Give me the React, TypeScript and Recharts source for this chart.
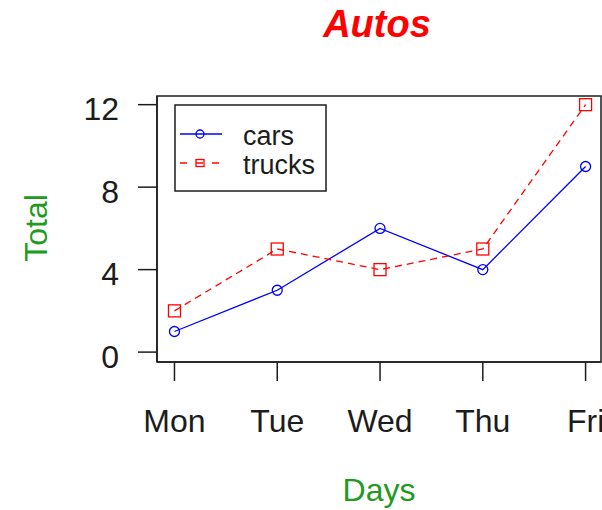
import { LineChart, Line, XAxis, YAxis, Label, ReferenceArea } from 'recharts';

const days = ['Mon', 'Tue', 'Wed', 'Thu', 'Fri'];
const cars = [1, 3, 6, 4, 9];
const trucks = [2, 5, 4, 5, 12];
const yTicks = [0, 4, 8, 12];
const xTicks = [1, 2, 3, 4, 5];

const data = days.map((day, i) => ({ x: i + 1, day, cars: cars[i], trucks: trucks[i] }));

const FONT = '"Liberation Sans", Arial, sans-serif';
const INK = '#1c1c1c';
const GREEN = '#229a22';
const xDomain: [number, number] = [0.83, 5.15];
const yDomain: [number, number] = [-0.48, 12.42];

const series = [
  { key: 'cars', color: '#0000ff', dash: undefined as string | undefined, marker: 'circle' },
  { key: 'trucks', color: '#ff0000', dash: '7 5', marker: 'square' },
];

const XTick = ({ x, y, payload }: any) => (
  <text x={x} y={y + 51} textAnchor="middle" fontSize={32} fontFamily={FONT} fill={INK}>
    {days[payload.value - 1]}
  </text>
);

const YTick = ({ x, y, payload }: any) => (
  <text x={x} y={y + 15.5} textAnchor="end" fontSize={32} fontFamily={FONT} fill={INK}>
    {payload.value}
  </text>
);

const CircleDot = ({ cx, cy, index }: any) => (
  <circle key={`c-${index}`} cx={cx} cy={cy} r={5} fill="none" stroke="#0000ff" strokeWidth={1.3} />
);

const SquareDot = ({ cx, cy, index }: any) => (
  <rect key={`s-${index}`} x={cx - 6} y={cy - 6} width={12} height={12} fill="none" stroke="#ff0000" strokeWidth={1.3} />
);

function ChartLegend() {
  return (
    <svg width={153} height={88} style={{ position: 'absolute', left: 174, top: 104 }}>
      <rect x={1} y={1} width={151} height={86} fill="#fff" stroke={INK} strokeWidth={1.5} />
      {series.map((s, i) => {
        const ly = 30 + i * 29;
        return (
          <g key={s.key}>
            <line x1={6} x2={48} y1={ly} y2={ly} stroke={s.color} strokeWidth={1.3} strokeDasharray={s.dash ? '7 9' : undefined} />
            {s.marker === 'circle' ? (
              <circle cx={26} cy={ly} r={4} fill="none" stroke={s.color} strokeWidth={1.3} />
            ) : (
              <rect x={22} y={ly - 3.5} width={8} height={7} fill="none" stroke={s.color} strokeWidth={1.3} />
            )}
            <text x={69} y={ly + 11} fontSize={27} fontFamily={FONT} fill={INK}>
              {s.key}
            </text>
          </g>
        );
      })}
    </svg>
  );
}

export default function App() {
  const axisStroke = { stroke: INK, strokeWidth: 1.5 };
  return (
    <div style={{ position: 'absolute', left: 0, top: 0, width: 602, height: 510, background: '#fff' }}>
      <LineChart width={602} height={510} data={data} margin={{ top: 96, right: 1, bottom: 0, left: 0 }}>
        <XAxis
          dataKey="x"
          type="number"
          domain={xDomain}
          ticks={xTicks}
          allowDataOverflow
          height={148}
          tickSize={19}
          tickMargin={0}
          tick={<XTick />}
          axisLine={axisStroke}
          tickLine={axisStroke}
        >
          <Label
            content={({ viewBox }: any) => (
              <text x={viewBox.x + viewBox.width / 2} y={501} textAnchor="middle" fontSize={32} fontFamily={FONT} fill={GREEN}>
                Days
              </text>
            )}
          />
        </XAxis>
        <YAxis
          type="number"
          domain={yDomain}
          ticks={yTicks}
          allowDataOverflow
          width={157}
          tickSize={19}
          tickMargin={19}
          tick={<YTick />}
          axisLine={axisStroke}
          tickLine={axisStroke}
        >
          <Label
            content={({ viewBox }: any) => {
              const cy = viewBox.y + viewBox.height / 2 - 1;
              return (
                <text
                  x={47}
                  y={cy}
                  transform={`rotate(-90 47 ${cy})`}
                  textAnchor="middle"
                  fontSize={32}
                  fontFamily={FONT}
                  fill={GREEN}
                >
                  Total
                </text>
              );
            }}
          />
        </YAxis>
        {/* plot box */}
        <ReferenceArea
          x1={xDomain[0]}
          x2={xDomain[1]}
          y1={yDomain[0]}
          y2={yDomain[1]}
          fill="none"
          fillOpacity={0}
          stroke={INK}
          strokeWidth={1.5}
          ifOverflow="visible"
        />
        <Line
          dataKey="cars"
          stroke="#0000ff"
          strokeWidth={1.3}
          dot={<CircleDot />}
          activeDot={false}
          isAnimationActive={false}
        />
        <Line
          dataKey="trucks"
          stroke="#ff0000"
          strokeWidth={1.3}
          strokeDasharray="7 5"
          dot={<SquareDot />}
          activeDot={false}
          isAnimationActive={false}
        />
      </LineChart>
      <svg width={602} height={60} style={{ position: 'absolute', left: 0, top: 0, pointerEvents: 'none' }}>
        <text x={377} y={37} textAnchor="middle" fontSize={38} fontWeight="bold" fontStyle="italic" fontFamily={FONT} fill="#ff0000">
          Autos
        </text>
      </svg>
      <ChartLegend />
    </div>
  );
}
